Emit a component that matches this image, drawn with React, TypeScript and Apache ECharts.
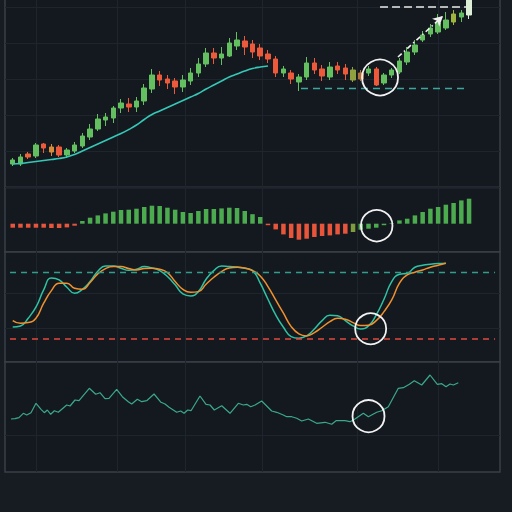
import { useEffect, useRef } from "react";
import * as echarts from "echarts";

// Price candles: [open, close, low, high]
const candles: number[][] = [
  [23.5, 27.5, 21.5, 29.5], [23.5, 30.5, 21.5, 33.5], [33.5, 30.5, 28.5, 35.5], [31.5, 42.5, 29.5, 44.5],
  [43.5, 39.5, 34.5, 44.5], [40.5, 35.5, 31.5, 43.5], [40.5, 32.5, 30.5, 42.5], [32.5, 37.5, 29.5, 39.5],
  [36.5, 42.5, 34.5, 45.5], [41.5, 51.5, 39.5, 54.5], [50.5, 58.5, 47.5, 63.5], [58.5, 68.5, 56.5, 73.5],
  [67.5, 70.5, 61.5, 74.5], [69.5, 79.5, 64.5, 81.5], [79.5, 84.5, 74.5, 88.5], [83.5, 80.5, 75.5, 89.5],
  [80.5, 86.5, 75.5, 90.5], [86.5, 99.5, 82.5, 103.5], [98.5, 112.5, 94.5, 118.5], [112.5, 107.5, 101.5, 116.5],
  [108.5, 104.5, 98.5, 112.5], [106.5, 100.5, 93.5, 109.5], [100.5, 107.5, 95.5, 112.5], [106.5, 114.5, 102.5, 119.5],
  [114.5, 123.5, 110.5, 129.5], [123.5, 134.5, 120.5, 139.5], [134.5, 129.5, 123.5, 139.5], [129.5, 133.5, 122.5, 140.5],
  [131.5, 144.5, 130.5, 149.5], [141.5, 147.5, 137.5, 155.5], [146.5, 140.5, 132.5, 151.5], [143.5, 135.5, 129.5, 147.5],
  [139.5, 131.5, 127.5, 143.5], [133.5, 128.5, 124.5, 137.5], [128.5, 114.5, 110.5, 131.5], [114.5, 118.5, 110.5, 121.5],
  [114.5, 108.5, 103.5, 117.5], [105.5, 110.5, 96.5, 113.5], [110.5, 124.5, 107.5, 130.5], [124.5, 117.5, 113.5, 129.5],
  [118.5, 111.5, 106.5, 122.5], [110.5, 120.5, 107.5, 125.5], [121.5, 117.5, 113.5, 125.5], [119.5, 113.5, 107.5, 123.5],
  [107.5, 117.5, 105.5, 120.5], [114.5, 108.5, 106.5, 117.5], [114.5, 118.5, 111.5, 121.5], [118.5, 102.5, 101.5, 120.5],
  [104.5, 112.5, 102.5, 114.5], [112.5, 117.5, 109.5, 119.5], [115.5, 126.5, 113.5, 129.5], [125.5, 135.5, 122.5, 140.5],
  [135.5, 142.5, 132.5, 147.5], [147.5, 152.5, 145.5, 156.5], [153.5, 159.5, 150.5, 163.5], [155.5, 164.5, 153.5, 173.5],
  [159.5, 167.5, 157.5, 175.5], [165.5, 173.5, 162.5, 177.5], [170.5, 174.5, 165.5, 177.5], [172.5, 195, 168.5, 198],
];
const candleTones: Record<number, string> = {
  2: "#e8673c", 5: "#d98b3a", 44: "#8fa23f", 45: "#b0723a", 57: "#9db53f", 59: "#dcefd6",
};

// Moving average (first part of the run)
const maLine = [
  23.5, 24, 25, 26, 27, 28, 29, 30.5, 33, 36.5, 40, 43.5, 47, 50.5, 54, 58, 62.5, 68, 73, 76.5,
  80, 83.5, 87, 90.5, 94, 98.5, 102.5, 106.5, 110.5, 113.5, 116.5, 119, 120.5, 121.5,
];

// Histogram
const macd = [
  -4, -4, -4, -4, -4, -4.3, -4.3, -3.7, -2, 2.7, 6, 8.3, 10.3, 12, 13.7, 14, 15, 16.7, 18, 17.7,
  16, 14, 11.7, 10.7, 12.7, 14.7, 14.7, 15.3, 16, 15.7, 12.7, 9.5, 6.7, -1.5, -5.7, -10.7, -14.3, -16, -15, -13.3,
  -12.3, -11.7, -10.7, -10, -8.3, -6, -5, -4, -1.5, 0.5, 3.3, 5, 8.3, 11.7, 15, 16.7, 19, 20.7, 23.3, 25,
];
const macdTones: Record<number, string> = {
  44: "#7f9c3c", 45: "#4caa4f", 46: "#4caa4f", 47: "#4caa4f", 48: "#4caa4f",
};

// Oscillator lines
const stochK = [
  30.7, 31.6, 38.6, 48.5, 64.1, 75, 73.2, 66.5, 61.1, 64.7, 71.7, 81, 85.8, 85.8, 83.7, 81.9, 82.8, 85.2, 84, 81.6,
  76.2, 68.7, 60.5, 58.7, 62.6, 73.8, 81.6, 85.8, 85.2, 84.9, 83.7, 81.6, 70.2, 55.7, 41.6, 30.4, 22, 20.5, 22.6, 28.9,
  36.4, 41.3, 40.7, 36.4, 31.6, 28.9, 31.6, 41.6, 55.7, 71.7, 78.3, 79.2, 84.6, 86.4, 87.3, 87.9, 88.2,
];
const stochD = [
  36.4, 34, 34.6, 38.5, 52.1, 63.5, 70.2, 70.2, 65.6, 64.7, 70.8, 78.6, 83.4, 85.2, 85.2, 83.4, 82.2, 83.4, 83.7, 82.8,
  79.8, 71.7, 64.7, 62, 62.6, 69.3, 75.6, 80.7, 84, 84.6, 84, 81.6, 76.8, 67.1, 55.1, 43.1, 31, 24.4, 22.6, 25.6,
  30.4, 35.5, 38.5, 37.7, 34.6, 31.9, 32.2, 36.4, 44.5, 55.1, 70.2, 77.7, 80.1, 82.2, 84.6, 86.4, 88.2,
];

// Bottom line (vertices)
const flowX = [
  -0.22, 0.29, 0.81, 1.37, 1.81, 2.36, 3.01, 3.66, 4.08, 4.47, 4.91, 5.38, 5.89, 6.98, 7.41, 8.05, 8.57, 9.0, 9.9, 10.73,
  11.28, 11.93, 12.45, 13.44, 14.17, 14.94, 15.38, 16.11, 16.68, 17.32, 18.27, 19.17, 19.69, 20.21, 21.2, 21.72, 22.15, 22.62, 23.05, 24.21,
  24.99, 25.51, 26.06, 27.02, 28.09, 29.17, 29.81, 30.25, 30.77, 31.33, 32.19, 33.48, 34.13, 34.98, 35.42, 36.07, 36.72, 37.36, 38.22, 39.3,
  40.38, 41.24, 41.8, 42.96, 43.61, 44.25, 45.33, 45.98, 47.06, 47.71, 48.56, 49.85, 50.5, 51.28, 51.92, 52.88, 53.95, 54.9, 55.47, 56.02,
  56.54, 56.97, 57.61,
];
const flowY = [
  53, 53.3, 54.3, 58.7, 57, 59.3, 68.7, 62.7, 59.3, 62, 57.7, 61.3, 59.7, 67, 66, 72, 71.3, 75.3, 83.7, 77.7,
  79.3, 73.3, 73.7, 82.7, 75.3, 70.3, 68, 72.7, 70.3, 71.3, 78, 69.7, 68, 64.7, 59.7, 61, 58.7, 62, 61.3, 76,
  67.7, 67, 62, 66.3, 58.7, 68.7, 67, 67.7, 65.3, 67, 71, 61, 59.7, 57, 55.3, 55.3, 53.7, 51, 53, 48.7,
  49.7, 47.7, 51.3, 51.3, 50.3, 53, 58.7, 55.3, 59.7, 61.3, 65.3, 83.7, 84.3, 87.7, 91.3, 87, 97, 87.7, 88.3, 85.3,
  88, 87, 89.3,
];

// Vertical date separators (in candle index units)
const dayLines = [3.07, 13.48, 22.27, 32.23, 44.58, 54.99];

// Annotations
const supportLevel = 99.5;
const supportSpan = [37.27, 58.35];
const targetLevel = 180.5;
const targetSpan = [47.49, 58.6];
const arrowFrom = [49.81, 130.5];
const arrowTo = [55.63, 171.5];
const priceRing = [47.49, 110];
const macdRing = [47.06, -2];
const stochRing = [46.28, 29];
const flowRing = [46.0, 55.8];
const stochUpper = 80;
const stochLower = 20;
const stochSpan = [-0.35, 62.36];
const stochFaint = [61.2, 29.5];
const flowFaint = [37];

const UP = "#63bf5f";
const DOWN = "#ec5a3b";
const MACD_UP = "#4caa4f";
const MACD_DOWN = "#e9553b";
const GRID = "#1f252d";
const FRAME = "#3a3f47";

export default function App() {
  const ref = useRef<HTMLDivElement>(null);
  useEffect(() => {
    if (!ref.current) return;
    const chart = echarts.init(ref.current, null, { renderer: "svg" });

    const panel = (top: number, height: number) => ({
      left: 5, right: 12, top, height, show: true, borderColor: FRAME, borderWidth: 1.5,
      backgroundColor: "#141920", outerBoundsMode: "none", containLabel: false,
    });

    const gridLines = (extra: number[] = []) => ({
      silent: true, z: 1, symbol: ["none", "none"], label: { show: false },
      lineStyle: { color: GRID, width: 1, type: "solid" },
      emphasis: { disabled: true },
      data: [
        ...dayLines.map((x) => ({ xAxis: x })),
        ...extra.map((y) => ({ yAxis: y })),
      ],
    });

    const ring = (coord: number[], size: number) => ({
      silent: true, symbol: "circle", symbolSize: size,
      itemStyle: { color: "rgba(0,0,0,0)", borderColor: "#f2f2f2", borderWidth: 1.8 },
      label: { show: false },
      data: [{ coord }],
    });

    const option: any = {
      animation: false,
      backgroundColor: "#171c23",
      grid: [panel(-2, 189.5), panel(187.5, 64.5), panel(252, 110), panel(362, 110)],
      xAxis: [0, 1, 2, 3].map((g) => ({ type: "value", gridIndex: g, min: -1, max: 63, show: false })),
      yAxis: [
        {
          type: "value", gridIndex: 0, min: 0, max: 189.5, interval: 36,
          axisLine: { show: false }, axisTick: { show: false }, axisLabel: { show: false },
          splitLine: { show: true, lineStyle: { color: GRID, width: 1 } },
        },
        { type: "value", gridIndex: 1, min: -28.3, max: 36.2, show: false },
        { type: "value", gridIndex: 2, min: -1, max: 98.4, show: false },
        { type: "value", gridIndex: 3, min: 0, max: 110, show: false },
      ],
      series: [
        {
          type: "candlestick", xAxisIndex: 0, yAxisIndex: 0, barWidth: 5,
          encode: { x: 0, y: [1, 2, 3, 4] },
          itemStyle: { color: UP, color0: DOWN, borderColor: UP, borderColor0: DOWN, borderWidth: 1 },
          data: candles.map((c, i) => {
            const tone = candleTones[i];
            return tone
              ? { value: [i, ...c], itemStyle: { color: tone, color0: tone, borderColor: tone, borderColor0: tone } }
              : { value: [i, ...c] };
          }),
          markLine: gridLines(),
        },
        {
          type: "line", xAxisIndex: 0, yAxisIndex: 0, smooth: true, showSymbol: false,
          lineStyle: { color: "#35c8b6", width: 1.6 },
          data: maLine.map((v, i) => [i, v]),
          markLine: {
            silent: true, symbol: ["none", "none"], label: { show: false },
            emphasis: { disabled: true },
            data: [
              [
                { coord: [supportSpan[0], supportLevel], lineStyle: { color: "#3aa89a", width: 1.3, type: [7, 5] } },
                { coord: [supportSpan[1], supportLevel] },
              ],
              [
                { coord: [targetSpan[0], targetLevel], lineStyle: { color: "#ececec", width: 1.6, type: [8, 4] } },
                { coord: [targetSpan[1], targetLevel] },
              ],
              [
                { coord: arrowFrom, symbol: "none", lineStyle: { color: "#f0f0f0", width: 1.6, type: [5, 3, 1.5, 3] } },
                { coord: arrowTo, symbol: "arrow", symbolSize: [8, 10] },
              ],
            ],
          },
          markPoint: ring(priceRing, 36),
        },
        {
          type: "bar", xAxisIndex: 1, yAxisIndex: 1, barWidth: 4.5,
          data: macd.map((v, i) => ({
            value: [i, v],
            itemStyle: { color: macdTones[i] ?? (v >= 0 ? MACD_UP : MACD_DOWN) },
          })),
          markLine: gridLines(),
          markPoint: ring(macdRing, 31.5),
        },
        {
          type: "line", xAxisIndex: 2, yAxisIndex: 2, smooth: true, showSymbol: false,
          lineStyle: { color: "#2fc2a3", width: 1.5 },
          data: stochK.map((v, i) => [i, v]),
          markLine: {
            silent: true, symbol: ["none", "none"], label: { show: false },
            emphasis: { disabled: true },
            lineStyle: { color: "#e5473d", width: 1.5, type: [6, 5] },
            data: [
              [
                { coord: [stochSpan[0], stochUpper], lineStyle: { color: "#2f9e8a", width: 1.3, type: [6, 5] } },
                { coord: [stochSpan[1], stochUpper] },
              ],
              [
                { coord: [stochSpan[0], stochLower], lineStyle: { color: "#e5473d", width: 1.5, type: [6, 5] } },
                { coord: [stochSpan[1], stochLower] },
              ],
            ],
          },
          markPoint: ring(stochRing, 31),
        },
        {
          type: "line", xAxisIndex: 2, yAxisIndex: 2, smooth: true, showSymbol: false,
          lineStyle: { color: "#f0912d", width: 1.5 },
          data: stochD.map((v, i) => [i, v]),
          markLine: gridLines(stochFaint),
        },
        {
          type: "line", xAxisIndex: 3, yAxisIndex: 3, showSymbol: false,
          lineStyle: { color: "#3aa98b", width: 1.2 },
          data: flowX.map((x, i) => [x, flowY[i]]),
          markLine: gridLines(flowFaint),
          markPoint: ring(flowRing, 32),
        },
      ],
    };
    chart.setOption(option);
    return () => chart.dispose();
  }, []);
  return (
    <div
      ref={ref}
      style={{ position: "fixed", left: 0, top: 0, width: 512, height: 512, background: "#171c23" }}
    />
  );
}
